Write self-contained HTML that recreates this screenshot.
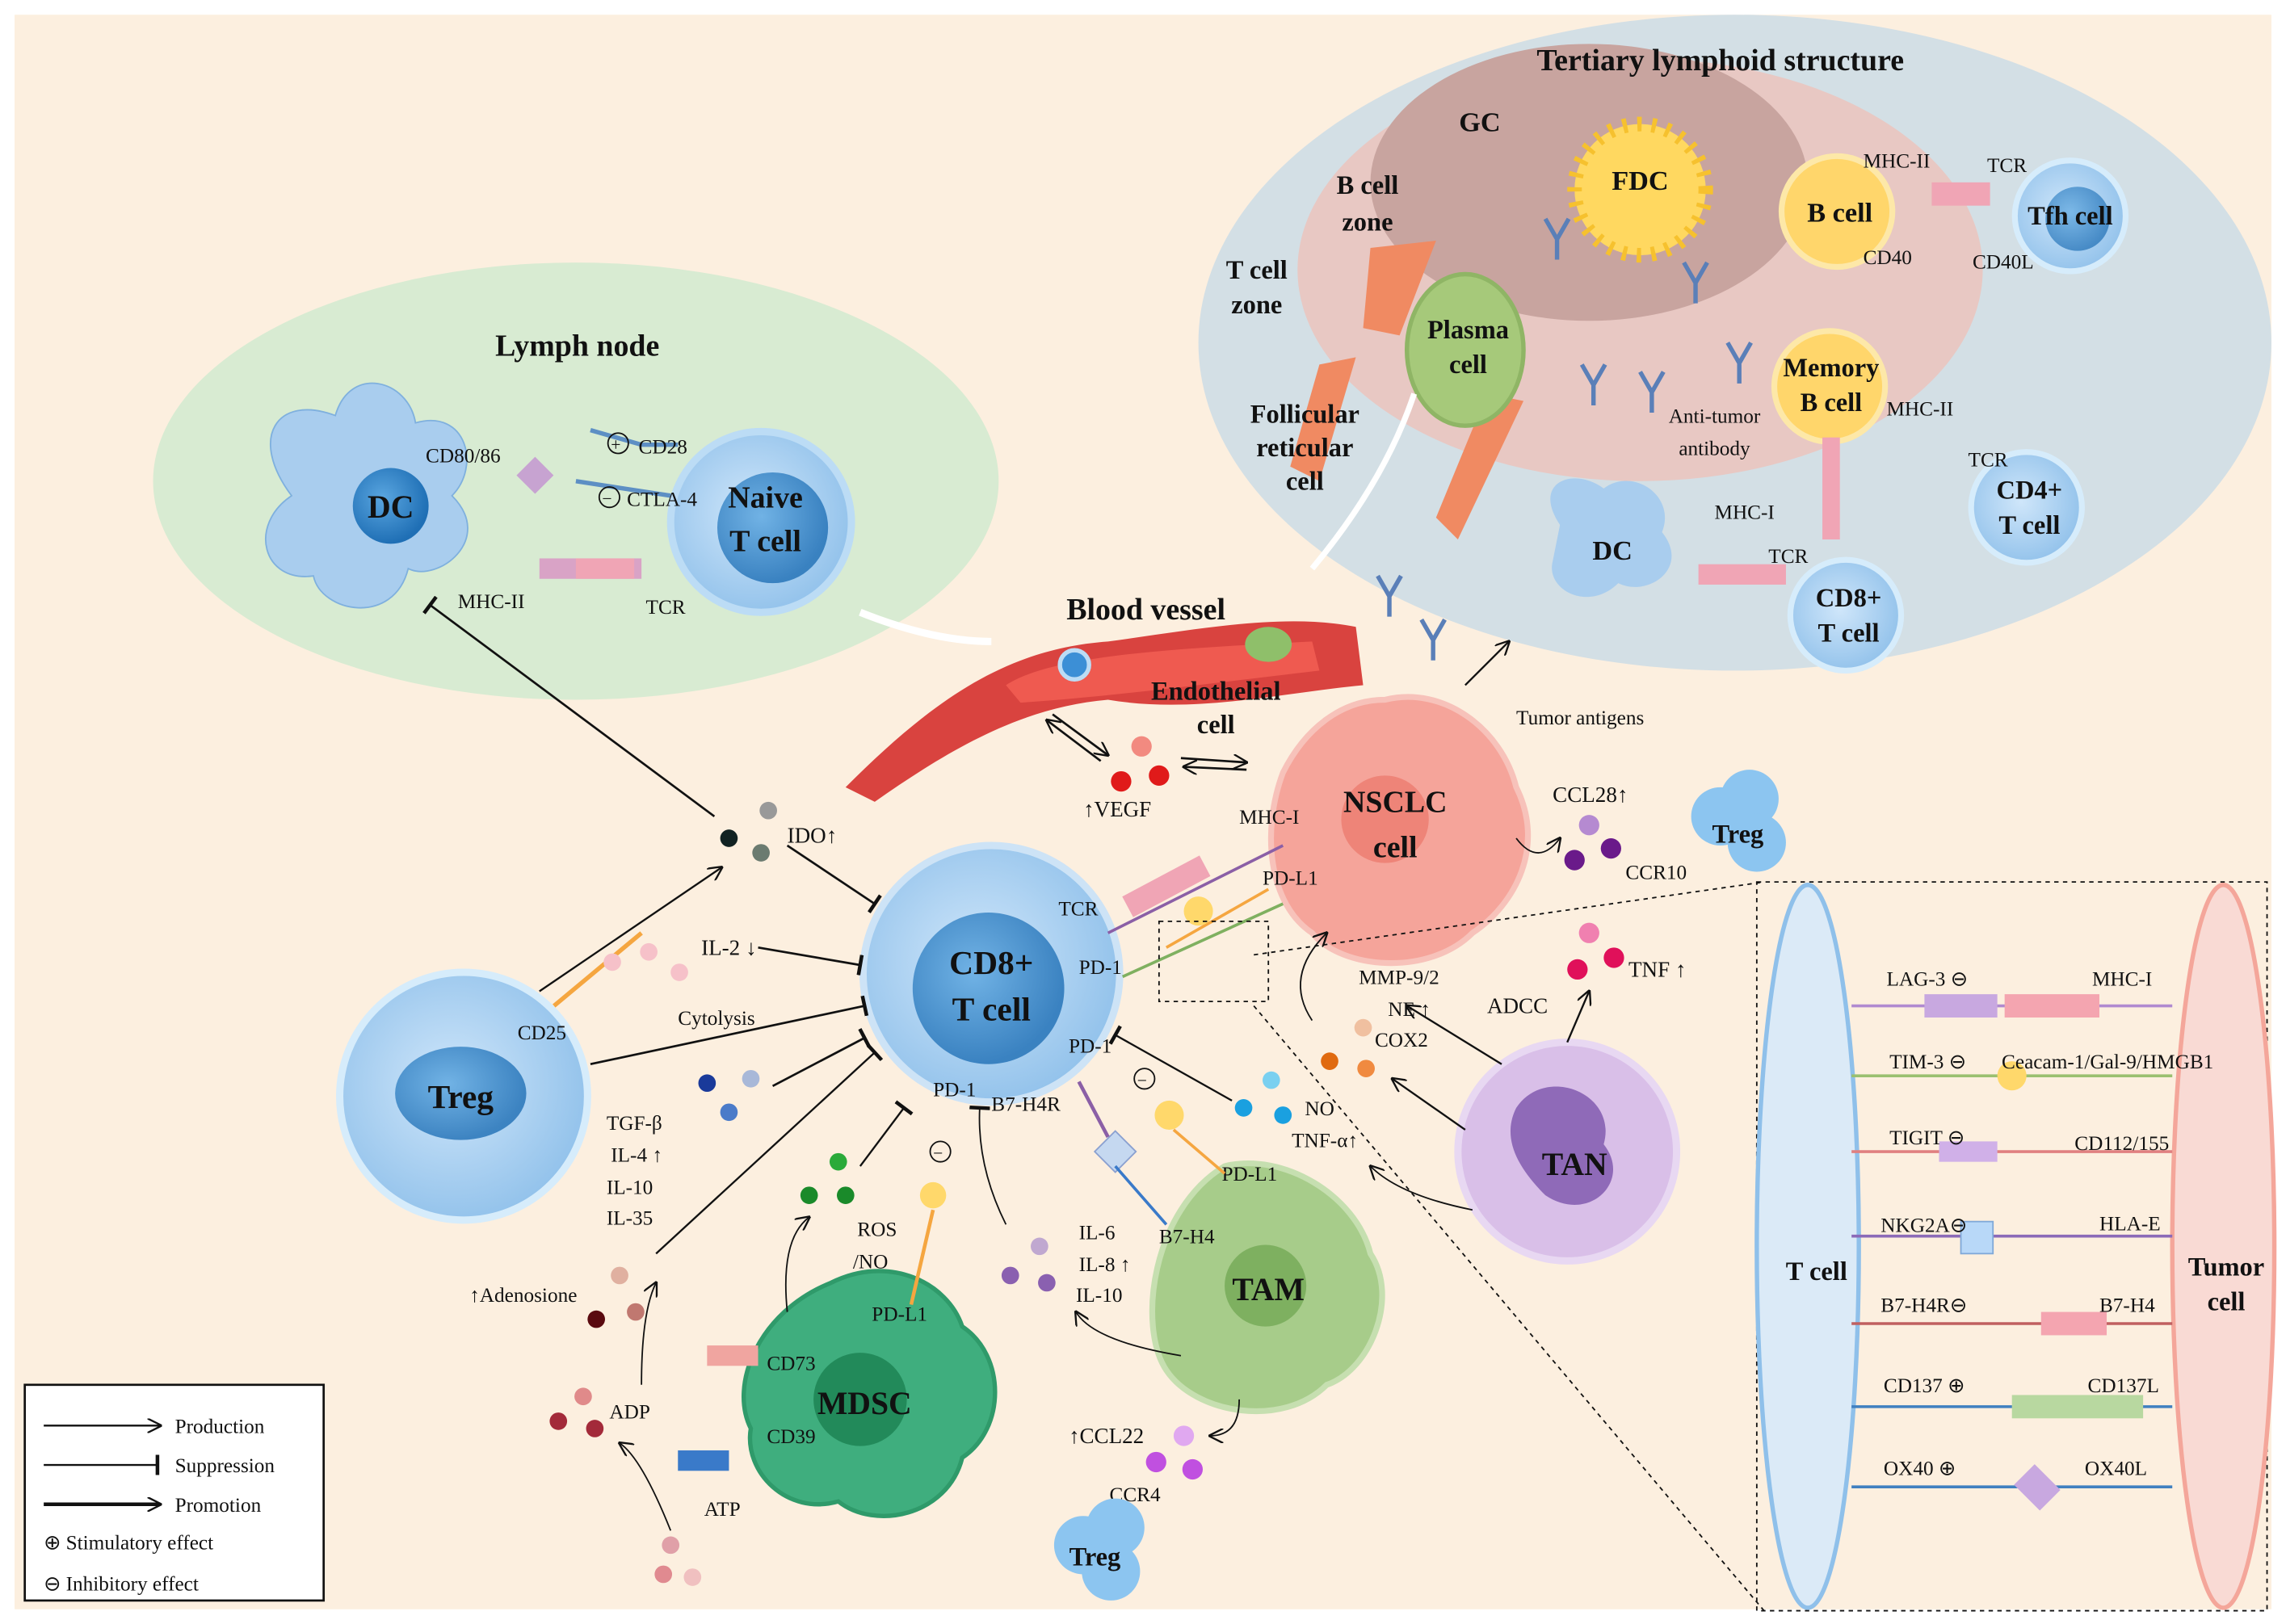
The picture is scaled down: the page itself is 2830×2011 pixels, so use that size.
<!DOCTYPE html>
<html><head><meta charset="utf-8"><style>
html,body{margin:0;padding:0;background:#fff;}
svg{display:block}
text{font-family:"Liberation Serif",serif;fill:#111}
.b{font-weight:bold}
</style></head><body>
<svg width="2830" height="2011" viewBox="0 0 1568 1114" xmlns="http://www.w3.org/2000/svg">
<defs>
<marker id="ar" markerWidth="10" markerHeight="10" refX="9" refY="5" orient="auto" markerUnits="userSpaceOnUse"><path d="M0,0 L10,5 L0,10" fill="none" stroke="#111" stroke-width="1.3"/></marker>
<marker id="inh" markerWidth="4" markerHeight="14" refX="2" refY="7" orient="auto" markerUnits="userSpaceOnUse"><path d="M2,0 L2,14" stroke="#111" stroke-width="2.5"/></marker>
<radialGradient id="cb" cx="0.45" cy="0.45" r="0.6"><stop offset="0" stop-color="#cfe6fa"/><stop offset="1" stop-color="#8fc0ea"/></radialGradient>
<radialGradient id="nb" cx="0.4" cy="0.4" r="0.6"><stop offset="0" stop-color="#5aa6e0"/><stop offset="1" stop-color="#1f6fb5"/></radialGradient>
</defs>
<rect x="0" y="0" width="1568" height="1114" fill="#fff"/>
<rect x="10" y="10" width="1548" height="1094" fill="#fcefdf"/>

<!-- Lymph node -->
<ellipse cx="395" cy="330" rx="290" ry="150" fill="#d8ebd2"/>
<text x="396" y="244" font-size="21" class="b" text-anchor="middle">Lymph node</text>
<g>
<path d="M200,340 C170,300 190,270 230,285 C240,250 280,260 285,290 C320,280 330,320 310,340 C340,370 300,400 280,390 C270,430 220,420 215,395 C180,400 170,360 200,340Z" fill="#a9cdee" stroke="#7fb0de"/>
<circle cx="268" cy="347" r="26" fill="url(#nb)"/>
<text x="268" y="355" font-size="22" class="b" text-anchor="middle">DC</text>
</g>
<text x="292" y="317" font-size="14">CD80/86</text>
<rect x="358" y="317" width="18" height="18" fill="#c7a3d1" transform="rotate(45 367 326)"/>
<circle cx="522" cy="358" r="62" fill="url(#cb)" stroke="#bcdcf5" stroke-width="5"/>
<circle cx="530" cy="362" r="38" fill="url(#nb)" opacity="0.8"/>
<text x="525" y="348" font-size="21" class="b" text-anchor="middle">Naive</text>
<text x="525" y="378" font-size="21" class="b" text-anchor="middle">T cell</text>
<path d="M405,295 L440,305 L465,305" stroke="#5d8fc4" stroke-width="3" fill="none"/>
<circle cx="424" cy="304" r="7" fill="none" stroke="#111"/><text x="419" y="309" font-size="12">+</text>
<text x="438" y="311" font-size="14">CD28</text>
<path d="M395,330 L460,340" stroke="#5d8fc4" stroke-width="3"/>
<circle cx="418" cy="341" r="7" fill="none" stroke="#111"/><text x="413" y="346" font-size="12">−</text>
<text x="430" y="347" font-size="14">CTLA-4</text>
<rect x="370" y="383" width="70" height="14" fill="#d9a3c6"/><rect x="395" y="383" width="40" height="14" fill="#f0a5b5"/>
<text x="314" y="417" font-size="14">MHC-II</text>
<text x="443" y="421" font-size="14">TCR</text>
<path d="M590,420 Q640,440 680,440" stroke="#fff" stroke-width="5" fill="none"/>

<!-- TLS -->
<ellipse cx="1190" cy="235" rx="368" ry="225" fill="#d3dfe5"/>
<ellipse cx="1125" cy="185" rx="235" ry="145" fill="#e8c8c3"/>
<ellipse cx="1090" cy="125" rx="150" ry="95" fill="#c8a49f"/>
<path d="M940,170 L985,165 L960,230 L935,225Z" fill="#f08a62"/>
<path d="M905,250 L930,245 L905,330 L885,320Z" fill="#f08a62"/>
<path d="M1020,270 L1045,275 L1000,370 L985,355Z" fill="#f08a62"/>
<g stroke="#5a7fb8" stroke-width="3" fill="none">
<path d="M1060,150 l8,14 l8,-14 M1068,164 l0,14"/>
<path d="M1085,250 l8,14 l8,-14 M1093,264 l0,14"/>
<path d="M1125,255 l8,14 l8,-14 M1133,269 l0,14"/>
<path d="M1185,235 l8,14 l8,-14 M1193,249 l0,14"/>
<path d="M945,395 l8,14 l8,-14 M953,409 l0,14"/>
<path d="M975,425 l8,14 l8,-14 M983,439 l0,14"/>
<path d="M1155,180 l8,14 l8,-14 M1163,194 l0,14"/>
</g>
<text x="1180" y="48" font-size="21" class="b" text-anchor="middle">Tertiary lymphoid structure</text>
<text x="1015" y="90" font-size="19" class="b" text-anchor="middle">GC</text>
<text x="938" y="133" font-size="18" class="b" text-anchor="middle">B cell</text>
<text x="938" y="158" font-size="18" class="b" text-anchor="middle">zone</text>
<text x="862" y="191" font-size="18" class="b" text-anchor="middle">T cell</text>
<text x="862" y="215" font-size="18" class="b" text-anchor="middle">zone</text>
<text x="895" y="290" font-size="18" class="b" text-anchor="middle">Follicular</text>
<text x="895" y="313" font-size="18" class="b" text-anchor="middle">reticular</text>
<text x="895" y="336" font-size="18" class="b" text-anchor="middle">cell</text>
<circle cx="1125" cy="130" r="45" fill="#ffd860" stroke="#f6c12e" stroke-width="10" stroke-dasharray="3 7"/>
<text x="1125" y="130" font-size="19" class="b" text-anchor="middle">FDC</text>
<ellipse cx="1005" cy="240" rx="40" ry="52" fill="#a6c97a" stroke="#8fb565" stroke-width="3"/>
<text x="1007" y="232" font-size="18" class="b" text-anchor="middle">Plasma</text>
<text x="1007" y="256" font-size="18" class="b" text-anchor="middle">cell</text>
<circle cx="1260" cy="145" r="38" fill="#ffd66b" stroke="#fde8a8" stroke-width="4"/>
<text x="1262" y="152" font-size="19" class="b" text-anchor="middle">B cell</text>
<rect x="1325" y="125" width="40" height="16" fill="#f0a5b5"/>
<text x="1278" y="115" font-size="14">MHC-II</text><text x="1363" y="118" font-size="14">TCR</text>
<text x="1278" y="181" font-size="14">CD40</text><text x="1353" y="184" font-size="14">CD40L</text>
<circle cx="1420" cy="148" r="38" fill="url(#cb)" stroke="#d6ecfb" stroke-width="4"/>
<circle cx="1425" cy="150" r="22" fill="url(#nb)" opacity="0.7"/>
<text x="1420" y="154" font-size="18" class="b" text-anchor="middle">Tfh cell</text>
<circle cx="1255" cy="265" r="38" fill="#ffd66b" stroke="#fde8a8" stroke-width="4"/>
<text x="1256" y="258" font-size="18" class="b" text-anchor="middle">Memory</text>
<text x="1256" y="282" font-size="18" class="b" text-anchor="middle">B cell</text>
<text x="1176" y="290" font-size="14" text-anchor="middle">Anti-tumor</text>
<text x="1176" y="312" font-size="14" text-anchor="middle">antibody</text>
<rect x="1250" y="300" width="12" height="70" fill="#f0a5b5"/>
<circle cx="1390" cy="348" r="38" fill="url(#cb)" stroke="#d6ecfb" stroke-width="4"/>
<text x="1294" y="285" font-size="14">MHC-II</text><text x="1350" y="320" font-size="14">TCR</text>
<text x="1392" y="342" font-size="18" class="b" text-anchor="middle">CD4+</text>
<text x="1392" y="366" font-size="18" class="b" text-anchor="middle">T cell</text>
<path d="M1070,360 C1050,330 1080,320 1100,335 C1120,320 1150,340 1140,365 C1160,390 1130,410 1110,400 C1090,420 1060,405 1065,385Z" fill="#a9cdee"/>
<text x="1106" y="384" font-size="19" class="b" text-anchor="middle">DC</text>
<rect x="1165" y="387" width="60" height="14" fill="#f0a5b5"/>
<text x="1176" y="356" font-size="14">MHC-I</text><text x="1213" y="386" font-size="14">TCR</text>
<circle cx="1266" cy="422" r="38" fill="url(#cb)" stroke="#d6ecfb" stroke-width="4"/>
<text x="1268" y="416" font-size="18" class="b" text-anchor="middle">CD8+</text>
<text x="1268" y="440" font-size="18" class="b" text-anchor="middle">T cell</text>
<path d="M970,270 Q950,330 900,390" stroke="#fff" stroke-width="4" fill="none"/>
<text x="1040" y="497" font-size="14">Tumor antigens</text>

<!-- Blood vessel -->
<text x="786" y="425" font-size="21" class="b" text-anchor="middle">Blood vessel</text>
<path d="M580,540 C640,480 690,445 760,440 C820,432 880,420 930,430 L935,470 C880,475 820,490 760,480 C700,485 650,515 600,550Z" fill="#d9433f"/>
<path d="M690,470 C720,450 800,445 900,440 L905,460 C820,470 760,478 700,482Z" fill="#ef5a50"/>
<circle cx="737" cy="456" r="10" fill="#3c8fd6" stroke="#bcdcf5" stroke-width="3"/>
<ellipse cx="870" cy="442" rx="16" ry="12" fill="#8fbf6a"/>
<text x="834" y="480" font-size="18" class="b" text-anchor="middle">Endothelial</text>
<text x="834" y="503" font-size="18" class="b" text-anchor="middle">cell</text>
<circle cx="783" cy="512" r="7" fill="#f28a80"/><circle cx="769" cy="536" r="7" fill="#e01a1a"/><circle cx="795" cy="532" r="7" fill="#e01a1a"/>
<text x="743" y="560" font-size="15">↑VEGF</text>
<path d="M722,490 L760,518" stroke="#111" stroke-width="1.5" marker-end="url(#ar)"/>
<path d="M755,522 L718,494" stroke="#111" stroke-width="1.5" marker-end="url(#ar)"/>
<path d="M810,520 L855,523" stroke="#111" stroke-width="1.5" marker-end="url(#ar)"/>
<path d="M855,528 L812,526" stroke="#111" stroke-width="1.5" marker-end="url(#ar)"/>

<!-- NSCLC -->
<path d="M950,480 C990,470 1030,500 1040,540 C1060,580 1040,620 1010,640 C980,670 920,665 900,640 C870,620 865,570 880,530 C895,500 920,480 950,480Z" fill="#f5a49a" stroke="#f7c2ba" stroke-width="4"/>
<circle cx="950" cy="562" r="30" fill="#ee8478"/>
<text x="957" y="557" font-size="21" class="b" text-anchor="middle">NSCLC</text>
<text x="957" y="588" font-size="21" class="b" text-anchor="middle">cell</text>
<path d="M1005,470 L1035,440" stroke="#111" stroke-width="1.3" marker-end="url(#ar)"/>
<text x="1065" y="550" font-size="15">CCL28↑</text>
<circle cx="1090" cy="566" r="7" fill="#b58ad1"/><circle cx="1080" cy="590" r="7" fill="#6a1a8a"/><circle cx="1105" cy="582" r="7" fill="#6a1a8a"/>
<text x="1115" y="603" font-size="14">CCR10</text>
<path d="M1040,575 Q1055,595 1070,575" stroke="#111" fill="none" marker-end="url(#ar)"/>
<circle cx="1180" cy="560" r="20" fill="#8cc5f0"/><circle cx="1200" cy="548" r="20" fill="#8cc5f0"/><circle cx="1205" cy="578" r="20" fill="#8cc5f0"/>
<text x="1192" y="578" font-size="18" class="b" text-anchor="middle">Treg</text>

<!-- CD8 T cell -->
<circle cx="680" cy="668" r="88" fill="url(#cb)" stroke="#cde3f6" stroke-width="5"/>
<circle cx="678" cy="678" r="52" fill="url(#nb)" opacity="0.8"/>
<text x="680" y="668" font-size="23" class="b" text-anchor="middle">CD8+</text>
<text x="680" y="700" font-size="23" class="b" text-anchor="middle">T cell</text>
<text x="726" y="628" font-size="14">TCR</text>
<text x="740" y="668" font-size="14">PD-1</text>
<text x="733" y="722" font-size="14">PD-1</text>
<text x="640" y="752" font-size="14">PD-1</text>
<text x="680" y="762" font-size="14">B7-H4R</text>
<text x="850" y="565" font-size="14">MHC-I</text>
<text x="866" y="607" font-size="14">PD-L1</text>
<path d="M760,640 L880,580" stroke="#8b5fa6" stroke-width="2"/>
<rect x="770" y="600" width="60" height="16" fill="#f0a5b5" transform="rotate(-28 800 608)"/>
<path d="M770,670 L880,620" stroke="#7fb060" stroke-width="2"/>
<path d="M800,650 L870,610" stroke="#f5a640" stroke-width="2"/>
<circle cx="822" cy="625" r="10" fill="#ffd86b"/>
<rect x="795" y="632" width="75" height="55" fill="none" stroke="#111" stroke-dasharray="3 3"/>

<!-- Treg left -->
<circle cx="318" cy="752" r="85" fill="url(#cb)" stroke="#d6ecfb" stroke-width="5"/>
<ellipse cx="316" cy="750" rx="45" ry="32" fill="url(#nb)" opacity="0.8"/>
<text x="316" y="760" font-size="23" class="b" text-anchor="middle">Treg</text>
<text x="355" y="713" font-size="14">CD25</text>
<path d="M380,690 L440,640" stroke="#f5a640" stroke-width="3"/>
<circle cx="420" cy="660" r="6" fill="#f6c1c9"/><circle cx="445" cy="653" r="6" fill="#f6c1c9"/><circle cx="466" cy="667" r="6" fill="#f6c1c9"/>
<text x="481" y="655" font-size="15">IL-2 ↓</text>
<text x="465" y="703" font-size="14">Cytolysis</text>
<path d="M370,680 L495,595" stroke="#111" stroke-width="1.3" marker-end="url(#ar)"/>
<circle cx="500" cy="575" r="6" fill="#122"/><circle cx="527" cy="556" r="6" fill="#999"/><circle cx="522" cy="585" r="6" fill="#6b7b70"/>
<text x="540" y="578" font-size="15">IDO↑</text>
<path d="M540,580 L600,620" stroke="#111" stroke-width="1.5" marker-end="url(#inh)"/>
<path d="M490,560 L295,415" stroke="#111" stroke-width="1.5" marker-end="url(#inh)"/>
<path d="M520,650 L590,662" stroke="#111" stroke-width="1.5" marker-end="url(#inh)"/>
<path d="M405,730 L593,690" stroke="#111" stroke-width="1.5" marker-end="url(#inh)"/>
<circle cx="485" cy="743" r="6" fill="#1a3a9a"/><circle cx="515" cy="740" r="6" fill="#a8b8d8"/><circle cx="500" cy="763" r="6" fill="#4b7bc9"/>
<path d="M530,745 L593,712" stroke="#111" stroke-width="1.5" marker-end="url(#inh)"/>
<text x="416" y="775" font-size="14">TGF-β</text>
<text x="419" y="797" font-size="14">IL-4 ↑</text>
<text x="416" y="819" font-size="14">IL-10</text>
<text x="416" y="840" font-size="14">IL-35</text>
<path d="M450,860 L600,722" stroke="#111" stroke-width="1.3" marker-end="url(#inh)"/>

<!-- Adenosine / ADP / ATP -->
<text x="322" y="893" font-size="14">↑Adenosione</text>
<circle cx="425" cy="875" r="6" fill="#e0b0a0"/><circle cx="409" cy="905" r="6" fill="#5a0a10"/><circle cx="436" cy="900" r="6" fill="#c07870"/>
<circle cx="400" cy="958" r="6" fill="#e08a8a"/><circle cx="383" cy="975" r="6" fill="#a32a3a"/><circle cx="408" cy="980" r="6" fill="#a32a3a"/>
<text x="418" y="973" font-size="14">ADP</text>
<circle cx="460" cy="1060" r="6" fill="#e0a0a8"/><circle cx="475" cy="1082" r="6" fill="#f0c0c0"/><circle cx="455" cy="1080" r="6" fill="#e08a90"/>
<text x="483" y="1040" font-size="14">ATP</text>
<path d="M460,1050 Q440,1000 425,990" stroke="#111" fill="none" marker-end="url(#ar)"/>
<path d="M440,950 Q440,900 450,880" stroke="#111" fill="none" marker-end="url(#ar)"/>

<!-- MDSC -->
<path d="M570,880 C610,860 650,880 660,910 C690,930 690,980 660,1000 C650,1040 600,1050 575,1030 C540,1040 510,1010 515,980 C500,950 520,900 570,880Z" fill="#3fae7e" stroke="#2f9a6a" stroke-width="3"/>
<circle cx="590" cy="960" r="32" fill="#228a5a"/>
<text x="593" y="970" font-size="22" class="b" text-anchor="middle">MDSC</text>
<text x="526" y="940" font-size="14">CD73</text>
<text x="526" y="990" font-size="14">CD39</text>
<text x="598" y="906" font-size="14">PD-L1</text>
<rect x="485" y="923" width="35" height="14" fill="#f0a5a0"/>
<rect x="465" y="995" width="35" height="14" fill="#3a7ac9"/>
<circle cx="555" cy="820" r="6" fill="#1a8a2a"/><circle cx="575" cy="797" r="6" fill="#2aaa3a"/><circle cx="580" cy="820" r="6" fill="#1a8a2a"/>
<text x="588" y="848" font-size="14">ROS</text><text x="585" y="870" font-size="14">/NO</text>
<circle cx="640" cy="820" r="9" fill="#ffd86b"/><path d="M640,830 L625,895" stroke="#f5a640" stroke-width="2.5"/>
<circle cx="645" cy="790" r="7" fill="none" stroke="#111"/><text x="640" y="795" font-size="12">−</text>
<path d="M540,900 Q535,850 555,835" stroke="#111" fill="none" marker-end="url(#ar)"/>
<path d="M590,800 L620,760" stroke="#111" stroke-width="1.3" marker-end="url(#inh)"/>

<!-- TAM -->
<path d="M840,800 C880,790 930,820 940,860 C960,890 940,940 910,950 C880,980 820,970 800,940 C780,910 790,830 840,800Z" fill="#a7cc8a" stroke="#c6dfb0" stroke-width="4"/>
<circle cx="868" cy="882" r="28" fill="#7eb060"/>
<text x="870" y="892" font-size="22" class="b" text-anchor="middle">TAM</text>
<text x="838" y="810" font-size="14">PD-L1</text>
<text x="795" y="853" font-size="14">B7-H4</text>
<rect x="755" y="780" width="20" height="20" fill="#c5d8f0" stroke="#8aa0d0" transform="rotate(45 765 790)"/>
<path d="M740,742 L760,780" stroke="#8b5fa6" stroke-width="2.5"/>
<path d="M765,800 L800,840" stroke="#3a7ac9" stroke-width="2"/>
<circle cx="802" cy="765" r="10" fill="#ffd86b"/><path d="M805,775 L840,805" stroke="#f5a640" stroke-width="2"/>
<circle cx="785" cy="740" r="7" fill="none" stroke="#111"/><text x="780" y="745" font-size="12">−</text>
<circle cx="713" cy="855" r="6" fill="#c0a8d0"/><circle cx="693" cy="875" r="6" fill="#8a60b0"/><circle cx="718" cy="880" r="6" fill="#8a60b0"/>
<text x="740" y="850" font-size="14">IL-6</text><text x="740" y="872" font-size="14">IL-8 ↑</text><text x="738" y="893" font-size="14">IL-10</text>
<path d="M810,930 Q750,920 738,900" stroke="#111" fill="none" marker-end="url(#ar)"/>
<path d="M690,840 Q670,800 672,760" stroke="#111" fill="none" marker-end="url(#inh)"/>
<text x="733" y="990" font-size="15">↑CCL22</text>
<circle cx="812" cy="985" r="7" fill="#e0a8f0"/><circle cx="793" cy="1003" r="7" fill="#c050e0"/><circle cx="818" cy="1008" r="7" fill="#c050e0"/>
<text x="761" y="1030" font-size="14">CCR4</text>
<path d="M850,960 Q850,985 830,985" stroke="#111" fill="none" marker-end="url(#ar)"/>
<circle cx="743" cy="1060" r="20" fill="#8cc5f0"/><circle cx="765" cy="1048" r="20" fill="#8cc5f0"/><circle cx="762" cy="1078" r="20" fill="#8cc5f0"/>
<text x="751" y="1074" font-size="18" class="b" text-anchor="middle">Treg</text>

<!-- TAN -->
<circle cx="1075" cy="790" r="75" fill="#d9bfe8" stroke="#e8d8f2" stroke-width="5"/>
<path d="M1040,760 C1060,730 1110,750 1100,785 C1120,810 1090,840 1060,820 C1040,800 1030,780 1040,760Z" fill="#8f6ab8"/>
<text x="1080" y="806" font-size="22" class="b" text-anchor="middle">TAN</text>
<path d="M1075,715 L1090,680" stroke="#111" stroke-width="1.3" marker-end="url(#ar)"/>
<circle cx="1090" cy="640" r="7" fill="#f080b0"/><circle cx="1082" cy="665" r="7" fill="#e0105a"/><circle cx="1107" cy="657" r="7" fill="#e0105a"/>
<text x="1117" y="670" font-size="15">TNF ↑</text>
<path d="M1030,730 L965,690" stroke="#111" stroke-width="1.3" marker-end="url(#ar)"/>
<text x="1020" y="695" font-size="15">ADCC</text>
<text x="932" y="675" font-size="14">MMP-9/2</text><text x="952" y="697" font-size="14">NE  ↑</text><text x="943" y="718" font-size="14">COX2</text>
<circle cx="935" cy="705" r="6" fill="#f0c0a0"/><circle cx="912" cy="728" r="6" fill="#e06a10"/><circle cx="937" cy="733" r="6" fill="#f08a40"/>
<path d="M1005,775 L955,740" stroke="#111" stroke-width="1.3" marker-end="url(#ar)"/>
<path d="M900,700 Q880,670 910,640" stroke="#111" fill="none" marker-end="url(#ar)"/>
<circle cx="872" cy="741" r="6" fill="#7ad0f0"/><circle cx="853" cy="760" r="6" fill="#1aa0e0"/><circle cx="880" cy="765" r="6" fill="#1aa0e0"/>
<text x="895" y="765" font-size="14">NO</text><text x="886" y="787" font-size="14">TNF-α↑</text>
<path d="M845,755 L765,710" stroke="#111" stroke-width="1.3" marker-end="url(#inh)"/>
<path d="M1010,830 Q960,820 940,800" stroke="#111" fill="none" marker-end="url(#ar)"/>
<line x1="860" y1="655" x2="1210" y2="605" stroke="#111" stroke-dasharray="3 3"/>
<line x1="860" y1="690" x2="1210" y2="1105" stroke="#111" stroke-dasharray="3 3"/>

<!-- Right panel -->
<rect x="1205" y="605" width="350" height="500" fill="none" stroke="#111" stroke-dasharray="3 3"/>
<ellipse cx="1240" cy="855" rx="35" ry="248" fill="#dbeaf7" stroke="#8fc0ea" stroke-width="3"/>
<ellipse cx="1525" cy="855" rx="35" ry="248" fill="#f9dad4" stroke="#f4a69a" stroke-width="3"/>
<text x="1246" y="878" font-size="18" class="b" text-anchor="middle">T cell</text>
<text x="1527" y="875" font-size="18" class="b" text-anchor="middle">Tumor</text>
<text x="1527" y="899" font-size="18" class="b" text-anchor="middle">cell</text>
<g font-size="14">
<line x1="1270" y1="690" x2="1490" y2="690" stroke="#b08ad0" stroke-width="2"/>
<rect x="1320" y="682" width="50" height="16" fill="#c8a8e0"/><rect x="1375" y="682" width="65" height="16" fill="#f4a5b0"/>
<text x="1294" y="676">LAG-3 ⊖</text><text x="1435" y="676">MHC-I</text>
<line x1="1270" y1="738" x2="1490" y2="738" stroke="#9ac070" stroke-width="2"/>
<circle cx="1380" cy="738" r="10" fill="#ffd86b"/>
<text x="1296" y="733">TIM-3 ⊖</text><text x="1373" y="733">Ceacam-1/Gal-9/HMGB1</text>
<line x1="1270" y1="790" x2="1490" y2="790" stroke="#e08080" stroke-width="2"/>
<rect x="1330" y="783" width="40" height="14" fill="#d0b0e8"/>
<text x="1296" y="785">TIGIT ⊖</text><text x="1423" y="789">CD112/155</text>
<line x1="1270" y1="848" x2="1490" y2="848" stroke="#8b6ab8" stroke-width="2"/>
<rect x="1345" y="838" width="22" height="22" fill="#b8d8f8" stroke="#80a8d8"/>
<text x="1290" y="845">NKG2A⊖</text><text x="1440" y="844">HLA-E</text>
<line x1="1270" y1="908" x2="1490" y2="908" stroke="#c06060" stroke-width="2"/>
<rect x="1400" y="900" width="45" height="16" fill="#f4a5b0"/>
<text x="1290" y="900">B7-H4R⊖</text><text x="1440" y="900">B7-H4</text>
<line x1="1270" y1="965" x2="1490" y2="965" stroke="#4080c0" stroke-width="2"/>
<rect x="1380" y="957" width="90" height="16" fill="#b8d8a0"/>
<text x="1292" y="955">CD137 ⊕</text><text x="1432" y="955">CD137L</text>
<line x1="1270" y1="1020" x2="1490" y2="1020" stroke="#4080c0" stroke-width="2"/>
<rect x="1385" y="1010" width="25" height="20" fill="#c8a8e0" transform="rotate(45 1397 1020)"/>
<text x="1292" y="1012">OX40 ⊕</text><text x="1430" y="1012">OX40L</text>
</g>

<!-- Legend -->
<rect x="17" y="950" width="205" height="148" fill="#fff" stroke="#111" stroke-width="1.5"/>
<g font-size="14">
<line x1="30" y1="978" x2="110" y2="978" stroke="#111" stroke-width="1.3" marker-end="url(#ar)"/><text x="120" y="983">Production</text>
<line x1="30" y1="1005" x2="108" y2="1005" stroke="#111" stroke-width="1.3" marker-end="url(#inh)"/><text x="120" y="1010">Suppression</text>
<line x1="30" y1="1032" x2="110" y2="1032" stroke="#111" stroke-width="2.5" marker-end="url(#ar)"/><text x="120" y="1037">Promotion</text>
<text x="30" y="1063">⊕ Stimulatory effect</text>
<text x="30" y="1091">⊖ Inhibitory effect</text>
</g>
</svg>
</body></html>
